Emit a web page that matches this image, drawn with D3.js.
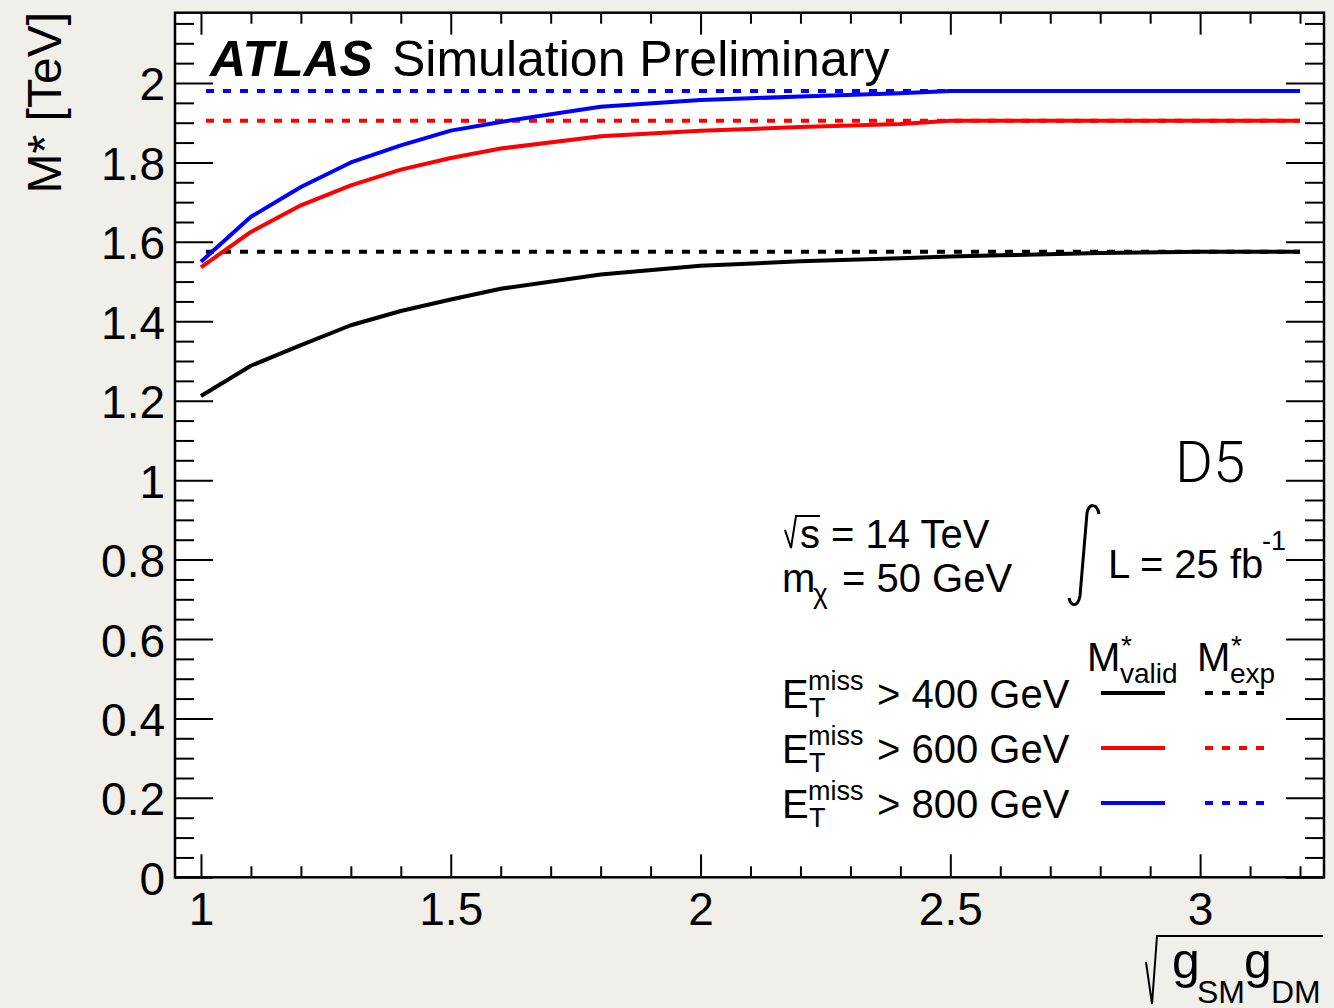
<!DOCTYPE html>
<html>
<head>
<meta charset="utf-8">
<script src="https://cdn.jsdelivr.net/npm/d3@7"></script>
<style>
  html, body { margin: 0; padding: 0; background: #f1efea; }
  svg { display: block; }
  text { font-family: "Liberation Sans", Helvetica, Arial, sans-serif; fill: #000; }
</style>
</head>
<body>
<svg id="chart" width="1334" height="1008"></svg>
<script>
// ---------------- data ----------------
const coupling = [1.0, 1.1, 1.2, 1.3, 1.4, 1.5, 1.6, 1.8, 2.0, 2.2, 2.4, 2.5, 2.6, 2.8, 3.0, 3.2];
const validMet400 = [1.212, 1.288, 1.340, 1.390, 1.426, 1.455, 1.482, 1.518, 1.540, 1.551, 1.559, 1.563, 1.566, 1.572, 1.575, 1.575];
const validMet600 = [1.536, 1.625, 1.692, 1.742, 1.782, 1.811, 1.835, 1.866, 1.880, 1.889, 1.897, 1.905, 1.905, 1.905, 1.905, 1.905];
const validMet800 = [1.550, 1.663, 1.738, 1.800, 1.843, 1.880, 1.902, 1.940, 1.957, 1.966, 1.974, 1.980, 1.980, 1.980, 1.980, 1.980];
const expMet = [1.575, 1.905, 1.980];
const seriesNames = ["400", "600", "800"];
const seriesColors = ["#000000", "#ff0000", "#0000ff"];
const xMajorTicks = [1, 1.5, 2, 2.5, 3];
const xMinorTicks = [1.1, 1.2, 1.3, 1.4, 1.6, 1.7, 1.8, 1.9, 2.1, 2.2, 2.3, 2.4, 2.6, 2.7, 2.8, 2.9, 3.1, 3.2];
const yMajorTicks = [0, 0.2, 0.4, 0.6, 0.8, 1, 1.2, 1.4, 1.6, 1.8, 2];
const yMinorTicks = [0.05, 0.1, 0.15, 0.25, 0.3, 0.35, 0.45, 0.5, 0.55, 0.65, 0.7, 0.75, 0.85, 0.9, 0.95,
  1.05, 1.1, 1.15, 1.25, 1.3, 1.35, 1.45, 1.5, 1.55, 1.65, 1.7, 1.75, 1.85, 1.9, 1.95, 2.05, 2.1, 2.15];

// ---------------- layout ----------------
const L = 175, R = 1324, T = 12.7, B = 877.3;
const svg = d3.select("#chart");
const x = d3.scaleLinear().domain([0.948, 3.248]).range([L, R]);
const y = d3.scaleLinear().domain([0, 2.177]).range([B, T]);

svg.append("rect").attr("x", L).attr("y", T).attr("width", R - L).attr("height", B - T).attr("fill", "#ffffff");

// ---------------- axes ----------------
function styleAxis(g) {
  g.select(".domain").remove();
  g.selectAll(".tick line").attr("stroke", "#000").attr("stroke-width", 2);
}
// bottom
const gB = svg.append("g").attr("transform", `translate(0,${B})`)
  .call(d3.axisBottom(x).tickValues(xMajorTicks).tickSize(-23).tickPadding(0).tickFormat(d => String(d)));
styleAxis(gB);
gB.selectAll(".tick text").attr("y", 48).attr("dy", null).attr("font-size", 46)
  .style("font-family", "'Liberation Sans', Helvetica, Arial, sans-serif");
svg.append("g").attr("transform", `translate(0,${B})`)
  .call(d3.axisBottom(x).tickValues(xMinorTicks).tickSize(-11).tickFormat("")).call(styleAxis);
// top
svg.append("g").attr("transform", `translate(0,${T})`)
  .call(d3.axisTop(x).tickValues(xMajorTicks).tickSize(-22).tickFormat("")).call(styleAxis);
svg.append("g").attr("transform", `translate(0,${T})`)
  .call(d3.axisTop(x).tickValues(xMinorTicks).tickSize(-11).tickFormat("")).call(styleAxis);
// left
const gL = svg.append("g").attr("transform", `translate(${L},0)`)
  .call(d3.axisLeft(y).tickValues(yMajorTicks).tickSize(-38).tickPadding(10).tickFormat(d => String(d)));
styleAxis(gL);
gL.selectAll(".tick text").attr("x", -10).attr("dy", 17).attr("font-size", 46)
  .style("font-family", "'Liberation Sans', Helvetica, Arial, sans-serif");
svg.append("g").attr("transform", `translate(${L},0)`)
  .call(d3.axisLeft(y).tickValues(yMinorTicks).tickSize(-19).tickFormat("")).call(styleAxis);
// right
svg.append("g").attr("transform", `translate(${R},0)`)
  .call(d3.axisRight(y).tickValues(yMajorTicks).tickSize(-38).tickFormat("")).call(styleAxis);
svg.append("g").attr("transform", `translate(${R},0)`)
  .call(d3.axisRight(y).tickValues(yMinorTicks).tickSize(-19).tickFormat("")).call(styleAxis);

// frame
svg.append("rect").attr("x", L).attr("y", T).attr("width", R - L).attr("height", B - T)
  .attr("fill", "none").attr("stroke", "#000").attr("stroke-width", 2.5);

// ---------------- lines ----------------
const line = d3.line().x(d => x(d[0])).y(d => y(d[1]));
const validSeries = [validMet400, validMet600, validMet800];
// expected (dashed)
expMet.forEach((v, i) => {
  svg.append("path")
    .attr("d", line([[coupling[0], v], [coupling[coupling.length - 1], v]]))
    .attr("fill", "none").attr("stroke", seriesColors[i]).attr("stroke-width", 4)
    .attr("stroke-dasharray", "8,9").attr("stroke-dashoffset", 12);
});
// valid (solid)
validSeries.forEach((vals, i) => {
  svg.append("path")
    .attr("d", line(coupling.map((c, j) => [c, vals[j]])))
    .attr("fill", "none").attr("stroke", seriesColors[i]).attr("stroke-width", 4)
    .attr("stroke-linejoin", "round");
});

// ---------------- texts ----------------
function txt(xp, yp, s, size, extra) {
  const t = svg.append("text").attr("x", xp).attr("y", yp).attr("font-size", size).text(s);
  if (extra) extra(t);
  return t;
}
txt(210, 76, "ATLAS", 50, t => t.attr("font-weight", "bold").attr("font-style", "italic"));
txt(392, 76, "Simulation Preliminary", 50);
txt(1175, 482, "D5", 58, t => t.style("font-family", "Roboto, 'Liberation Sans', sans-serif").attr("font-weight", 300));

// y title
svg.append("text").attr("transform", "translate(61,12) rotate(-90)")
  .attr("text-anchor", "end").attr("font-size", 48).text("M* [TeV]");

// x title with radical
svg.append("path").attr("d", "M1146,962 L1152,1004 L1157,936 L1323,936")
  .attr("fill", "none").attr("stroke", "#000").attr("stroke-width", 2);
txt(1172, 978, "g", 50);
txt(1197, 1003, "SM", 32);
txt(1244, 978, "g", 50);
txt(1271, 1003, "DM", 32);

// sqrt(s)
svg.append("path").attr("d", "M785,530 L791,548 L796,516 L820,516")
  .attr("fill", "none").attr("stroke", "#000").attr("stroke-width", 2);
txt(800, 548, "s = 14 TeV", 40);
txt(782, 592, "m", 40);
txt(813, 603, "χ", 28);
txt(842, 592, "= 50 GeV", 40);
// integral
svg.append("path").attr("d", "M1099,514 C1097,503 1089,503 1087,513 L1080,596 C1078,607 1071,607 1069,598")
  .attr("fill", "none").attr("stroke", "#000").attr("stroke-width", 3);
txt(1108, 578, "L = 25 fb", 40);
txt(1262, 550, "-1", 27);

// legend
txt(1087, 671, "M", 40);
txt(1121, 655, "*", 28);
txt(1120, 683, "valid", 28);
txt(1197, 671, "M", 40);
txt(1231, 655, "*", 28);
txt(1230, 683, "exp", 28);
seriesNames.forEach((n, i) => {
  const yb = 708 + 55 * i;
  txt(782, yb, "E", 40);
  txt(808, yb - 18, "miss", 27);
  txt(809, yb + 9, "T", 27);
  txt(877, yb, "> " + n + " GeV", 40);
  svg.append("line").attr("x1", 1101).attr("x2", 1165).attr("y1", yb - 15).attr("y2", yb - 15)
    .attr("stroke", seriesColors[i]).attr("stroke-width", 4);
  svg.append("line").attr("x1", 1205).attr("x2", 1265).attr("y1", yb - 15).attr("y2", yb - 15)
    .attr("stroke", seriesColors[i]).attr("stroke-width", 4).attr("stroke-dasharray", "8,9");
});
</script>
</body>
</html>
